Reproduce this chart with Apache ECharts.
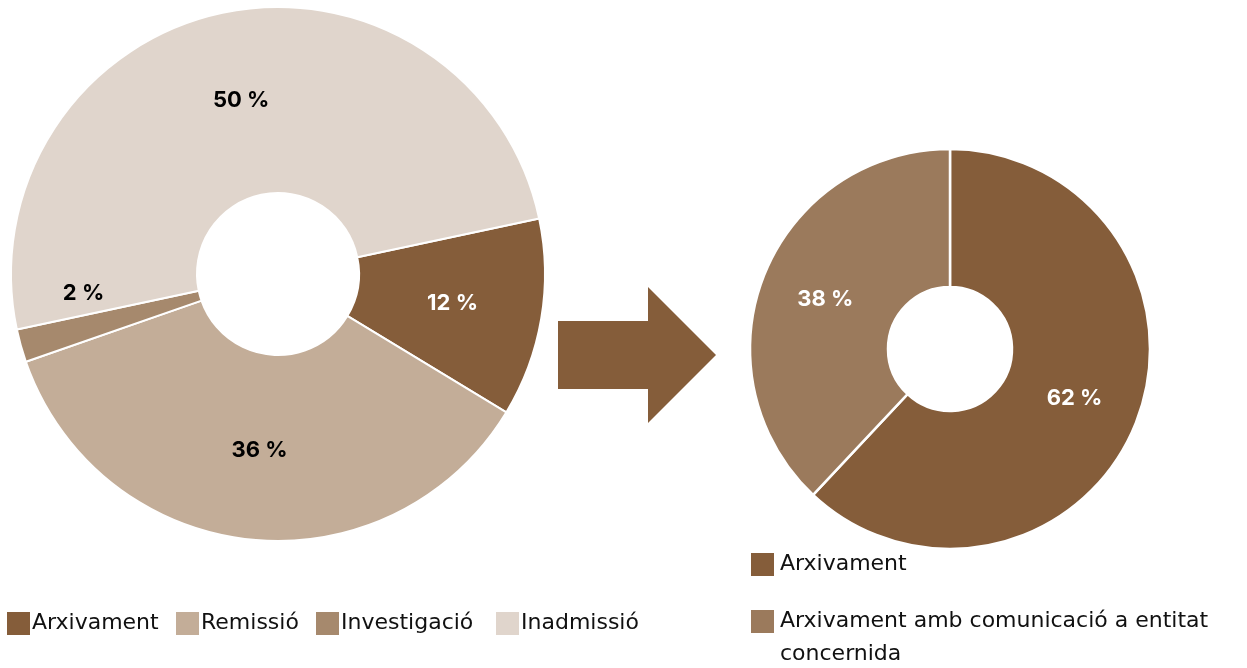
<!DOCTYPE html>
<html>
<head>
<meta charset="utf-8">
<script src="https://cdn.jsdelivr.net/npm/echarts@6/dist/echarts.min.js"></script>
<style>
  html, body { margin: 0; padding: 0; background: #ffffff; }
  #chart { width: 1247px; height: 668px; }
</style>
</head>
<body>
<div id="chart"></div>
<script>
// Resolució dels expedients
const catsAll = ['Arxivament', 'Remissió', 'Investigació', 'Inadmissió'];
const valsAll = [12, 36, 2, 50];
const colsAll = ['#855d3a', '#c3ad98', '#a6896d', '#e0d5cc'];
const labelColsAll = ['#ffffff', '#000000', '#000000', '#000000'];

// Detall dels arxivaments
const catsArx = ['Arxivament', 'Arxivament amb comunicació a entitat concernida'];
const valsArx = [62, 38];
const colsArx = ['#855d3a', '#9b7a5c'];

const LABEL_FONT = 'Inter, "Noto Sans", sans-serif';
const LEGEND_FONT = '"DejaVu Sans", "Noto Sans", sans-serif';

// x position of each legend entry under the left ring
const leftLegendX = [7, 176, 316, 496];

const chart = echarts.init(document.getElementById('chart'), null, { renderer: 'canvas' });

const leftData = catsAll.map((name, i) => {
  const item = {
    name: name,
    value: valsAll[i],
    itemStyle: { color: colsAll[i] },
    label: { color: labelColsAll[i] }
  };
  if (name === 'Investigació') item.label.offset = [-24, -28];
  return item;
});

const rightData = catsArx.map((name, i) => ({
  name: name,
  value: valsArx[i],
  itemStyle: { color: colsArx[i] },
  label: { color: '#ffffff' }
}));

const pctLabel = {
  show: true,
  position: 'inside',
  formatter: p => p.value + ' %',
  fontFamily: LABEL_FONT,
  fontWeight: 'bold',
  fontSize: 22
};

const legendBase = {
  orient: 'vertical',
  padding: 0,
  itemWidth: 23,
  itemHeight: 23,
  icon: 'rect',
  selectedMode: false,
  itemStyle: { borderWidth: 0 },
  textStyle: { fontFamily: LEGEND_FONT, fontSize: 22, color: '#111111', padding: [0, 0, 0, -3] }
};

const legends = catsAll.map((name, i) => Object.assign({}, legendBase, {
  data: [name],
  left: leftLegendX[i],
  top: 612
}));

legends.push(Object.assign({}, legendBase, {
  data: [catsArx[0]],
  left: 751,
  top: 553,
  textStyle: { fontFamily: LEGEND_FONT, fontSize: 22, color: '#111111', padding: [0, 0, 0, 1] }
}));

// Long label wrapped onto two lines; the leading blank line keeps the
// first written line level with the colour swatch.
legends.push(Object.assign({}, legendBase, {
  data: [catsArx[1]],
  left: 751,
  top: 572,
  formatter: () => '\nArxivament amb comunicació a entitat\nconcernida',
  textStyle: {
    fontFamily: LEGEND_FONT, fontSize: 22, color: '#111111',
    lineHeight: 33, padding: [0, 0, 0, 1]
  }
}));

chart.setOption({
  animation: false,
  backgroundColor: '#ffffff',
  legend: legends,
  graphic: [
    {
      type: 'polygon',
      shape: {
        points: [[558, 321], [648, 321], [648, 287], [716, 355], [648, 423], [648, 389], [558, 389]]
      },
      style: { fill: '#855d3a' }
    }
  ],
  series: [
    {
      type: 'pie',
      center: [278, 274],
      radius: [81, 267],
      startAngle: 12,
      clockwise: true,
      avoidLabelOverlap: false,
      label: pctLabel,
      labelLine: { show: false },
      itemStyle: { borderColor: '#ffffff', borderWidth: 2 },
      emphasis: { disabled: true },
      data: leftData
    },
    {
      type: 'pie',
      center: [950, 349],
      radius: [62, 200],
      startAngle: 90,
      clockwise: true,
      avoidLabelOverlap: false,
      label: pctLabel,
      labelLine: { show: false },
      itemStyle: { borderColor: '#ffffff', borderWidth: 2.5 },
      emphasis: { disabled: true },
      data: rightData
    }
  ]
});
</script>
</body>
</html>
